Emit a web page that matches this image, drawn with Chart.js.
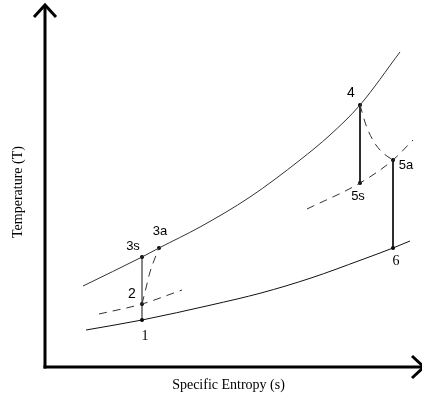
<!DOCTYPE html>
<html>
<head>
<meta charset="utf-8">
<script src="https://cdn.jsdelivr.net/npm/chart.js@4"></script>
<style>
  html, body { margin: 0; padding: 0; background: #fff; }
  #wrap { width: 422px; height: 398px; }
</style>
</head>
<body>
<div id="wrap"><canvas id="c" width="422" height="398"></canvas></div>
<script>
// Arbitrary units: s (specific entropy), T (temperature)
const highIsobarS = [3.8, 9.7, 11.4, 15.5, 20.5, 25.5, 28.5, 31.5, 35.5];
const highIsobarT = [8.1, 11.0, 11.9, 14.0, 17.0, 20.7, 23.2, 26.2, 31.5];

const lowIsobarS = [4.1, 9.7, 16.6, 21.6, 26.6, 31.6, 34.8, 36.5];
const lowIsobarT = [3.7, 4.7, 6.2, 7.4, 8.9, 10.7, 11.9, 12.6];

const midIsobarLeftS = [5.4, 9.7, 13.7];
const midIsobarLeftT = [5.3, 6.3, 7.7];

const midIsobarRightS = [26.2, 31.5, 34.8, 36.8];
const midIsobarRightT = [15.8, 18.4, 20.7, 22.7];

const actualCompS = [9.7, 10.1, 10.5, 11.0, 11.4];
const actualCompT = [6.3, 7.9, 9.5, 10.9, 11.9];

const actualExpS = [31.5, 32.1, 32.9, 33.8, 34.8];
const actualExpT = [26.2, 24.2, 22.5, 21.4, 20.7];

const stateLabels = ['1', '2', '3s', '3a', '4', '5s', '5a', '6'];
const stateS = [9.7, 9.7, 9.7, 11.4, 31.5, 31.5, 34.8, 34.8];
const stateT = [4.7, 6.3, 11.0, 11.9, 26.2, 18.4, 20.7, 11.9];

const xAxisTitle = 'Specific Entropy (s)';
const yAxisTitle = 'Temperature (T)';
const axisMaxS = 37.9;
const axisMaxT = 36.2;

function pts(xs, ys) { return xs.map((x, i) => ({ x: x, y: ys[i] })); }

// Label placement (pixel offsets from each state point) and fonts
const labelStyle = {
  '1':  { dx: 3,  dy: 16, font: '14px "Liberation Serif", serif' },
  '2':  { dx: -10, dy: -10, font: '14px "Liberation Sans", Arial, sans-serif' },
  '3s': { dx: -9, dy: -11, font: '13px "Liberation Sans", Arial, sans-serif' },
  '3a': { dx: 1,  dy: -17, font: '13px "Liberation Sans", Arial, sans-serif' },
  '4':  { dx: -9, dy: -12, font: '14px "Liberation Sans", Arial, sans-serif' },
  '5s': { dx: -2, dy: 13, font: '13px "Liberation Sans", Arial, sans-serif' },
  '5a': { dx: 13, dy: 5,  font: '13px "Liberation Sans", Arial, sans-serif' },
  '6':  { dx: 3,  dy: 13, font: '14px "Liberation Serif", serif' }
};

const arrowW = 1.1, arrowL = 1.2;

const line = (data, extra) => Object.assign({
  data: data, showLine: true, pointRadius: 0, pointHoverRadius: 0, borderColor: '#111',
  borderWidth: 1, fill: false, cubicInterpolationMode: 'monotone'
}, extra || {});

const straight = { cubicInterpolationMode: 'default', tension: 0 };
const axisStyle = Object.assign({ borderWidth: 3, borderColor: '#000' }, straight);

const datasets = [
  line(pts(highIsobarS, highIsobarT), { borderColor: '#333' }),
  line(pts(lowIsobarS, lowIsobarT)),
  line(pts(midIsobarLeftS, midIsobarLeftT), { borderDash: [8, 6], borderColor: '#333' }),
  line(pts(midIsobarRightS, midIsobarRightT), { borderDash: [8, 6], borderColor: '#333' }),
  line(pts(actualCompS, actualCompT), { borderDash: [8, 6], borderColor: '#333' }),
  line(pts(actualExpS, actualExpT), { borderDash: [8, 6], borderColor: '#333' }),
  // isentropic verticals
  line([{ x: stateS[0], y: stateT[0] }, { x: stateS[2], y: stateT[2] }], straight),
  line([{ x: stateS[4], y: stateT[4] }, { x: stateS[5], y: stateT[5] }], straight),
  line([{ x: stateS[6], y: stateT[6] }, { x: stateS[7], y: stateT[7] }], straight),
  // axes with arrows
  line([{ x: 0, y: -0.15 }, { x: 0, y: axisMaxT }], axisStyle),
  line([{ x: -arrowW, y: axisMaxT - arrowL }, { x: 0, y: axisMaxT }, { x: arrowW, y: axisMaxT - arrowL }], axisStyle),
  line([{ x: -0.15, y: 0 }, { x: axisMaxS, y: 0 }], axisStyle),
  line([{ x: axisMaxS - arrowL, y: arrowW }, { x: axisMaxS, y: 0 }, { x: axisMaxS - arrowL, y: -arrowW }], axisStyle),
  // state points
  { data: pts(stateS, stateT), showLine: false, pointRadius: 2, pointHoverRadius: 2, pointBackgroundColor: '#000', pointBorderColor: '#000', pointBorderWidth: 0 }
];

const textPlugin = {
  id: 'texts',
  afterDatasetsDraw(chart) {
    const ctx = chart.ctx, xs = chart.scales.x, ys = chart.scales.y;
    ctx.save();
    ctx.fillStyle = '#000';
    ctx.textAlign = 'center';
    ctx.textBaseline = 'middle';
    stateLabels.forEach((lab, i) => {
      const st = labelStyle[lab];
      ctx.font = st.font;
      ctx.fillText(lab, xs.getPixelForValue(stateS[i]) + st.dx, ys.getPixelForValue(stateT[i]) + st.dy);
    });
    ctx.font = '14px "Liberation Serif", "Times New Roman", serif';
    const x0 = xs.getPixelForValue(0), xm = xs.getPixelForValue(axisMaxS);
    const y0 = ys.getPixelForValue(0), ym = ys.getPixelForValue(axisMaxT);
    ctx.fillText(xAxisTitle, (x0 + xm) / 2 - 6, y0 + 18);
    ctx.translate(x0 - 27, (y0 + ym) / 2 + 6);
    ctx.rotate(-Math.PI / 2);
    ctx.fillText(yAxisTitle, 0, 0);
    ctx.restore();
  }
};

new Chart(document.getElementById('c'), {
  type: 'scatter',
  data: { datasets: datasets },
  options: {
    responsive: false,
    animation: false,
    layout: { padding: 0, autoPadding: false },
    plugins: { legend: { display: false }, tooltip: { enabled: false } },
    scales: {
      x: { type: 'linear', display: false, min: -4.5, max: 37.7 },
      y: { type: 'linear', display: false, min: -3.1, max: 36.7 }
    }
  },
  plugins: [textPlugin]
});
</script>
</body>
</html>
